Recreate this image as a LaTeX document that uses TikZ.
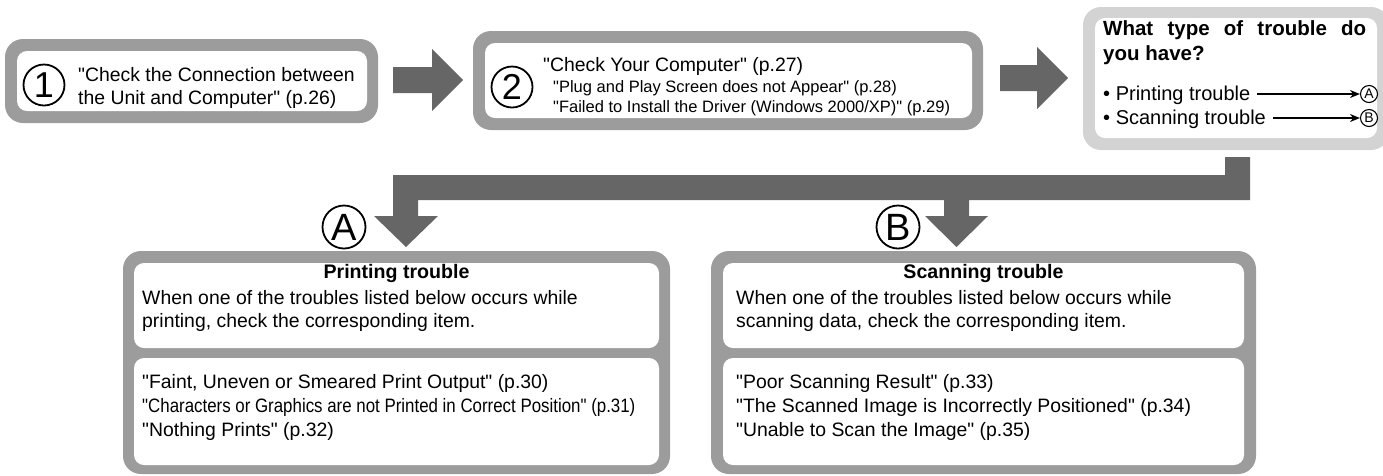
\documentclass[tikz,border=0pt]{standalone}
\usepackage{fontspec}
\setmainfont{Liberation Sans}[Ligatures=TeXOff]
\usetikzlibrary{arrows.meta}

\definecolor{framegrey}{HTML}{9C9C9C}
\definecolor{lightframe}{HTML}{D3D3D3}
\definecolor{arrowgrey}{HTML}{666666}

\tikzset{
  outerbox/.style={fill=framegrey, rounded corners=18pt, inner sep=0pt},
  innerbox/.style={fill=white, rounded corners=10pt, inner sep=0pt},
  numcirc/.style={circle, draw, line width=1.8pt, inner sep=0pt, minimum size=41pt,
    font=\fontsize{36}{36}\selectfont},
  smallcirc/.style={circle, draw, line width=1.1pt, inner sep=0pt, minimum size=17pt,
    font=\fontsize{14}{14}\selectfont},
  txt/.style={anchor=base west, inner sep=0pt, font=\fontsize{19.4}{23}\selectfont},
  smalltxt/.style={anchor=base west, inner sep=0pt, font=\fontsize{16.5}{20}\selectfont},
  headtxt/.style={anchor=base, inner sep=0pt, font=\fontsize{19.6}{23}\selectfont\bfseries},
  fatarrow/.style={fill=arrowgrey}
}

\begin{document}
\begin{tikzpicture}[x=1pt,y=-1pt]
  \useasboundingbox (0,0) rectangle (1383,475);

  % step 1
  \node[outerbox, minimum width=373pt, minimum height=84pt] (box1) at (191.5,81) {};
  \node[innerbox, minimum width=350pt, minimum height=60pt] (in1) at (192,81) {};
  \node[numcirc] (n1) at (44,85) {1};
  \node[txt] (t1a) at (78,81) {"Check the Connection between};
  \node[txt] (t1b) at (78,104) {the Unit and Computer" (p.26)};

  % step 2
  \node[outerbox, minimum width=510pt, minimum height=99pt] (box2) at (728,80.5) {};
  \node[innerbox, minimum width=487pt, minimum height=75pt] (in2) at (728.5,80.5) {};
  \node[numcirc] (n2) at (512,87) {2};
  \node[txt] (t2a) at (543,71) {"Check Your Computer" (p.27)};
  \node[smalltxt] (t2b) at (553,92) {"Plug and Play Screen does not Appear" (p.28)};
  \node[smalltxt] (t2c) at (553,112) {"Failed to Install the Driver (Windows 2000/XP)" (p.29)};

  % question
  \node[outerbox, fill=lightframe, minimum width=306pt, minimum height=143pt] (box3) at (1236,78.5) {};
  \node[innerbox, minimum width=282pt, minimum height=120pt] (in3) at (1236,78) {};
  \node[txt, font=\fontsize{20.5}{24}\selectfont\bfseries] (ask1) at (1103,35)
    {\makebox[263pt][s]{What type of trouble do}};
  \node[txt, font=\fontsize{20.5}{24}\selectfont\bfseries] (ask2) at (1103,60) {you have?};
  \node[txt, font=\fontsize{20}{24}\selectfont] (pt) at (1103,100) {\textbullet\ Printing trouble};
  \node[txt, font=\fontsize{20}{24}\selectfont] (st) at (1103,124) {\textbullet\ Scanning trouble};
  \node[smallcirc] (ca) at (1369,94) {A};
  \node[smallcirc] (cb) at (1369,118) {B};
  \draw[line width=1.4pt, -{Stealth[length=10pt,width=8pt]}] ([xshift=7pt]pt.east |- ca.west) -- (ca.west);
  \draw[line width=1.4pt, -{Stealth[length=10pt,width=8pt]}] ([xshift=7pt]st.east |- cb.west) -- (cb.west);

  % fat arrows
  \fill[fatarrow] (393,67) -- (432,67) -- (432,49) -- (463,80) -- (432,111)
    -- (432,93) -- (393,93) -- cycle;
  \fill[fatarrow] (1000,65) -- (1037,65) -- (1037,47) -- (1068,78) -- (1037,109)
    -- (1037,91) -- (1000,91) -- cycle;
  \fill[fatarrow] (1225,157) -- (1250,157) -- (1250,200) -- (969,200) -- (969,216)
    -- (988,216) -- (956.5,247) -- (925,216) -- (944,216) -- (944,200)
    -- (418,200) -- (418,216) -- (438,216) -- (406,247) -- (374,216)
    -- (393,216) -- (393,175) -- (1225,175) -- cycle;
  \node[numcirc, minimum size=43pt, font=\fontsize{38}{38}\selectfont] (la) at (344,227) {A};
  \node[numcirc, minimum size=43pt, font=\fontsize{38}{38}\selectfont] (lb) at (898,227) {B};

  % printing trouble
  \node[outerbox, minimum width=547pt, minimum height=223pt] (boxA) at (396.5,362.5) {};
  \node[innerbox, minimum width=525pt, minimum height=85pt] (upA) at (396.5,305.5) {};
  \node[innerbox, minimum width=525pt, minimum height=107pt] (loA) at (396.5,411.5) {};
  \node[headtxt] (hA) at (396.5,278) {Printing trouble};
  \node[txt] (wA1) at (142,304) {When one of the troubles listed below occurs while};
  \node[txt] (wA2) at (142,327) {printing, check the corresponding item.};
  \node[txt] (iA1) at (142,388) {"Faint, Uneven or Smeared Print Output" (p.30)};
  \node[txt] (iA2) at (142,412)
    {\scalebox{0.87}[1]{"Characters or Graphics are not Printed in Correct Position" (p.31)}};
  \node[txt] (iA3) at (142,436) {"Nothing Prints" (p.32)};

  % scanning trouble
  \node[outerbox, minimum width=545pt, minimum height=223pt] (boxB) at (983.5,362.5) {};
  \node[innerbox, minimum width=521pt, minimum height=85pt] (upB) at (983.5,305.5) {};
  \node[innerbox, minimum width=521pt, minimum height=107pt] (loB) at (983.5,411.5) {};
  \node[headtxt] (hB) at (983.5,278) {Scanning trouble};
  \node[txt] (wB1) at (736,304) {When one of the troubles listed below occurs while};
  \node[txt] (wB2) at (736,327) {scanning data, check the corresponding item.};
  \node[txt] (iB1) at (736,388) {"Poor Scanning Result" (p.33)};
  \node[txt] (iB2) at (736,412) {"The Scanned Image is Incorrectly Positioned" (p.34)};
  \node[txt] (iB3) at (736,436) {"Unable to Scan the Image" (p.35)};
\end{tikzpicture}
\end{document}
